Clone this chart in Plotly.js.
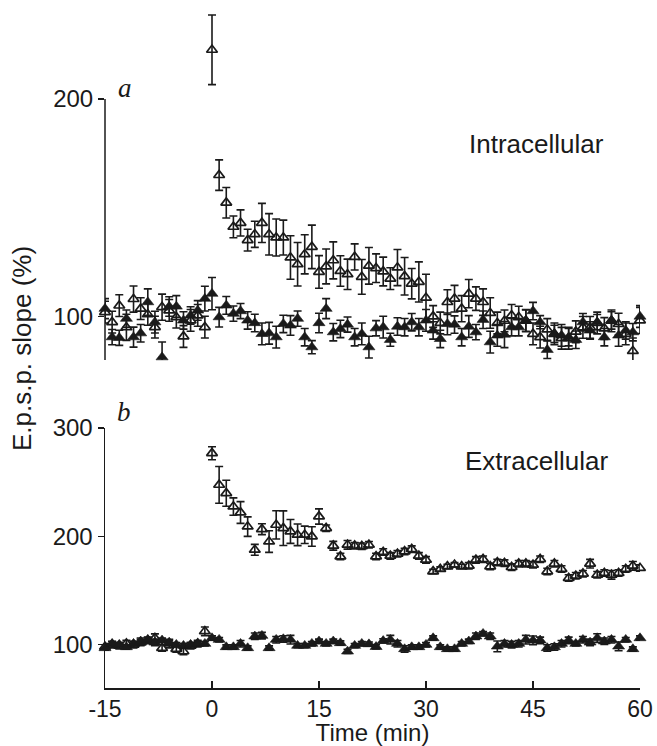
<!DOCTYPE html>
<html>
<head>
<meta charset="utf-8">
<script src="https://cdn.plot.ly/plotly-3.0.1.min.js"></script>
<style>html,body{margin:0;padding:0;background:#fff;}#chart{width:657px;height:746px;}</style>
</head>
<body>
<div id="chart"></div>
<script>
// Time points (min)
const timeMin = [-15,-14,-13,-12,-11,-10,-9,-8,-7,-6,-5,-4,-3,-2,-1,0,1,2,3,4,5,6,7,8,9,10,11,12,13,14,15,16,17,18,19,20,21,22,23,24,25,26,27,28,29,30,31,32,33,34,35,36,37,38,39,40,41,42,43,44,45,46,47,48,49,50,51,52,53,54,55,56,57,58,59,60];

// Panel a (Intracellular) - open triangles
const intraOpen = [102,97.4,105,95,108,103.6,101,95.1,104.3,102.8, 99.7,90.8,98.2,100.5,95.1,222.6,165,152.3,141.2,143, 135.1,137.8,143,137.8,136.3,136.3,127.1,124,128.6,132, 120.5,123,125.8,120.9,119.4,127.4,118.2,123.3,122.2,120.7, 117.4,122.5,118.5,115.1,115.9,108.6,100,97,106.6,108.2, 103.6,110.5,108.2,106.6,101.6,97,98,100.5,99.7,98, 92,90.5,94,92,90,90,93,95,95,97, 94.5,98,96.5,92,84.1,98.2];
const intraOpenSE = [5,5,5,6,6,5,5,5,6,5, 5,5,5,5,5,16,7,7,5,6, 5,6,9,9.5,8.5,8,10,10,9,10, 7.5,8,8.5,7,7,6,8,8.4,6.6,6.6, 5,8.3,8.6,7,9.2,10.8,5,5,5.7,6.1, 6,6.5,5.4,6.1,7,5,5,5,5,5, 5,5,5,5,5,5,5,5,5,5, 5,5,5,5,6,6];
// Panel a (Intracellular) - filled triangles
const intraFilled = [103.6,90.5,90.2,99,90.5,92.3,106.6,97.4,81.3,104.6, 104.6,98.2,100.5,102.8,108.2,110.5,99.7,105.1,101.3,102.5, 98.2,97,92,92.3,90.5,96.6,95.9,99,90.5,85.9, 97,103.6,92.8,94.3,96.3,90.5,92,85.9,94.6,95.1, 89.3,95.4,95.1,97.4,95.1,98.2,93.6,89.7,96.6,96.3, 90.5,95.4,92.8,98.5,88.2,91.3,91.7,95.1,95.1,98.2, 102.5,97.4,84.7,92,91.3,90.5,89.3,97.4,93.6,97.4, 90.5,98.2,91.3,93.6,92.8,100];
const intraFilledSE = [4.6,3.5,3.5,4.0,4.6,4.0,6.1,5.0,7.0,4.5, 5.0,4.0,4.0,4.5,5.7,7.4,4.5,4.1,3.5,3.5, 4.0,4.0,5.0,5.0,5.0,4.0,4.5,3.5,4.0,3.0, 4.5,4.6,4.0,4.0,3.5,4.0,5.0,5.0,3.5,5.0, 3.0,4.0,4.0,4.0,4.0,5.0,4.0,4.0,5.0,4.0, 4.0,5.0,3.5,4.0,5.0,5.0,6.0,4.0,4.0,5.0, 4.0,3.0,4.0,4.0,5.0,4.0,4.0,4.0,4.0,3.5, 4.0,4.0,5.0,4.0,4.0,5.0];

// Panel b (Extracellular) - open triangles
const extraOpen = [98,100,99,101,100,102,104,106,96.9,101, 96,93.8,99,101,112.3,276.7,247.5,239.8,227.5,222, 209,187.6,206.6,195.2,210.6,207.5,204.5,201.4,201.4,199.9, 218.3,207.5,191.3,181.4,192.2,191.3,190.9,192.2,181.4,185.5, 182,183.9,186,188.2,182,178.3,167.6,169.8,172.2,173.7, 172.2,172.8,178.3,178.9,172.2,175.9,175.3,171.6,174.7,174.7, 173.7,178.9,167.6,174.7,169.8,161.5,163.6,165.5,174.7,164.5, 166.1,164.5,166.1,169.8,172.8,170.7];
const extraOpenSE = [3,3,3,3,3,3,3,4,3,4, 3,3,3,3,4,6,17,12,8,10, 9,5,5,10,13,16,11,10,8,9, 7,3,4,3,4,3,3,3,3,3, 3,3,3,3,3,3,2,2,2,2, 2,3,3,3,3,3,3,3,3,3, 3,3,3,3,3,3,3,3,4,3, 3,4,3,3,4,3];
// Panel b (Extracellular) - filled triangles
const extraFilled = [96.9,100.9,100,97.8,100.9,103.1,104.6,102.1,104,102.1, 100,99.1,100,100.9,100.9,106.1,104.6,97.8,97.8,100.9, 96.9,107.7,108.3,96.9,104.6,105.2,104.6,99.1,99.1,100.9, 103.1,100.9,103.1,101.5,93.8,99.1,100.9,100.5,98,103.5, 104.6,100.9,96,97.8,97.8,100,106.1,97.8,96,96, 100.9,103.1,107.7,110.1,107.7,98.4,100.9,100,100.9,104.6, 104,104,96.9,97.8,100.9,104,100.9,104.6,102.1,106.1, 103.1,104.6,98.4,104.6,96,106.1];
const extraFilledSE = [2,2,2,2,2,3,2,3,2,2, 2,2,2,2,2,2,2,2,2,3, 2,3,3,2,3,3,4,2,2,2, 2,2,2,2,2,2,2,2,2,2, 4,3,3,2,2,2,2,2,2,2, 2,2,3,2,3,5,3,3,3,4, 4,3,3,3,3,3,2,3,3,4, 3,3,4,2,2,2];

const xTicks = [-15,0,15,30,45,60];
const yTicksA = [100,200];
const yTicksB = [100,200,300];

const ink = '#1a1a1a';
function series(x, y, se, yaxis, open) {
  return {
    type: 'scatter', mode: 'markers', x: x, y: y, yaxis: yaxis, xaxis: 'x',
    cliponaxis: false, showlegend: false,
    marker: open
      ? {symbol: 'triangle-up-open', size: 9.5, color: ink, line: {color: ink, width: 1.7}}
      : {symbol: 'triangle-up', size: 10.5, color: ink, line: {color: ink, width: 0.6}},
    error_y: {type: 'data', array: se, visible: true, color: ink, thickness: 1.6, width: 4}
  };
}

const data = [
  series(timeMin, intraOpen, intraOpenSE, 'y', true),
  series(timeMin, intraFilled, intraFilledSE, 'y', false),
  series(timeMin, extraOpen, extraOpenSE, 'y2', true),
  series(timeMin, extraFilled, extraFilledSE, 'y2', false)
];

const sans = 'Liberation Sans, Arial, sans-serif';
const tickFont = {family: sans, size: 24, color: ink};
const layout = {
  width: 657, height: 746,
  margin: {l: 105, r: 17, t: 10, b: 58},
  paper_bgcolor: '#fff', plot_bgcolor: '#fff',
  showlegend: false,
  font: tickFont,
  xaxis: {
    range: [-15, 60], anchor: 'y2', tickvals: xTicks, ticktext: xTicks.map(String),
    ticks: 'inside', ticklen: 7, tickwidth: 1.5, tickcolor: ink,
    showline: true, linecolor: ink, linewidth: 1.5, showgrid: false, zeroline: false,
    tickfont: {family: sans, size: 23, color: ink},
    title: {text: 'Time (min)', font: {family: sans, size: 24, color: ink}, standoff: 2}
  },
  yaxis: {
    domain: [0.48378, 1], range: [80, 240.92], anchor: 'x', tickvals: yTicksA,
    ticks: 'outside', ticklen: 6, tickwidth: 1.5, tickcolor: ink,
    showline: false, showgrid: false, zeroline: false,
    tickfont: tickFont
  },
  yaxis2: {
    domain: [0, 0.38348], range: [60, 300], anchor: 'x', tickvals: yTicksB,
    ticks: 'outside', ticklen: 6, tickwidth: 1.5, tickcolor: ink,
    showline: true, linecolor: ink, linewidth: 1.5, showgrid: false, zeroline: false,
    tickfont: tickFont
  },
  shapes: [
    {type: 'line', xref: 'paper', yref: 'y', x0: 0, x1: 0, y0: 80, y1: 200,
     line: {color: ink, width: 1.5}}
  ],
  annotations: [
    {text: 'E.p.s.p. slope (%)', xref: 'paper', yref: 'paper', x: -0.155, y: 0.5, xanchor: 'center', yanchor: 'middle',
     textangle: -90, showarrow: false, font: {family: sans, size: 26, color: ink}},
    {text: 'Intracellular', xref: 'x', yref: 'y', x: 45.5, y: 179.3, xanchor: 'center', yanchor: 'middle',
     showarrow: false, font: {family: sans, size: 26, color: ink}},
    {text: 'Extracellular', xref: 'x', yref: 'y2', x: 45.5, y: 269.6, xanchor: 'center', yanchor: 'middle',
     showarrow: false, font: {family: sans, size: 26, color: ink}},
    {text: '<i>a</i>', xref: 'paper', yref: 'paper', x: 0.0374, y: 0.885, xanchor: 'center', yanchor: 'middle',
     showarrow: false, font: {family: 'Liberation Serif, Times New Roman, serif', size: 27, color: ink}},
    {text: '<i>b</i>', xref: 'paper', yref: 'paper', x: 0.0355, y: 0.407, xanchor: 'center', yanchor: 'middle',
     showarrow: false, font: {family: 'Liberation Serif, Times New Roman, serif', size: 27, color: ink}}
  ]
};

Plotly.newPlot('chart', data, layout, {displayModeBar: false, staticPlot: true});
</script>
</body>
</html>
